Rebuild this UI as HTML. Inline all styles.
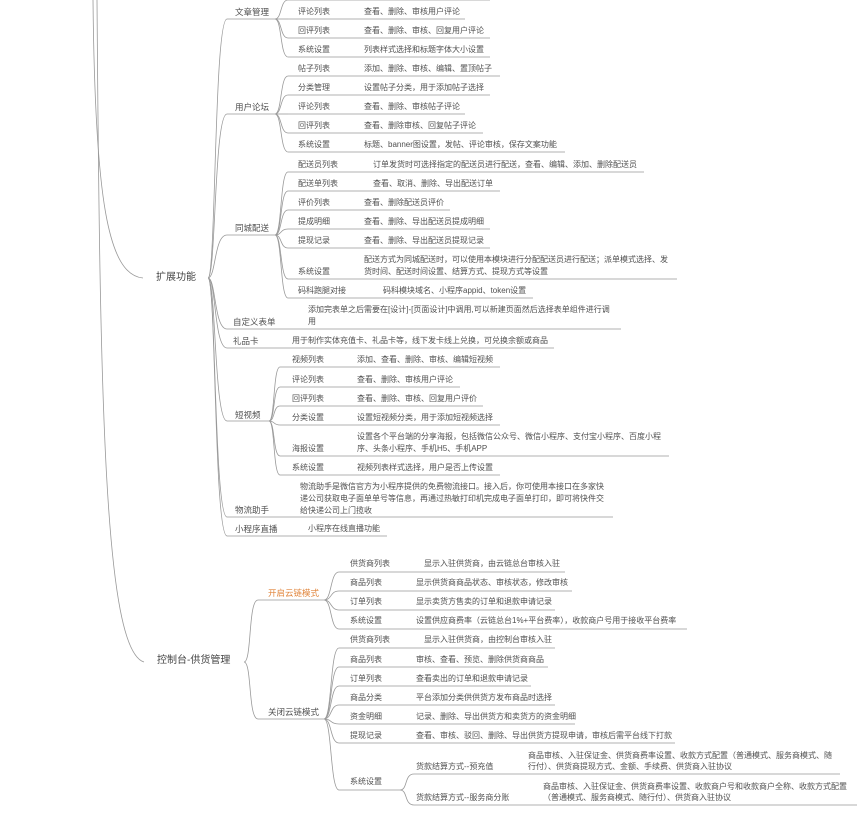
<!DOCTYPE html>
<html><head><meta charset="utf-8"><style>
body{margin:0;background:#fff;width:860px;height:830px;overflow:hidden;position:relative;font-family:"Liberation Sans","Noto Sans CJK SC",sans-serif;color:#505050}
.t{position:absolute;font-size:8px;line-height:12px;white-space:nowrap;transform:translateY(-6px)}
.g{font-size:8.5px}
.m{font-size:10px;color:#444}
svg{position:absolute;left:0;top:0}
</style></head><body>
<svg width="860" height="830" fill="none" stroke="#999" stroke-width="0.8">
<path d="M93,0 C95,200 108,275 143,278"/>
<path d="M97,0 C100,400 104,650 144,662"/>
<g>
<path d="M208,278 C216,278 214,19 227,19"/><path d="M208,278 C216,278 214,114 227,114"/><path d="M208,278 C216,278 214,235 227,235"/><path d="M208,278 C216,278 214,329 227,329"/><path d="M208,278 C216,278 214,348 227,348"/><path d="M208,278 C216,278 214,421 227,421"/><path d="M208,278 C216,278 214,517 227,517"/><path d="M208,278 C216,278 214,536 227,536"/>
<path d="M227,19 H275"/><path d="M227,114 H275"/><path d="M227,235 H275"/><path d="M227,329 H621"/><path d="M227,348 H554"/><path d="M227,421 H269"/><path d="M227,517 H613"/><path d="M227,536 H387"/>
</g>
<g>
<path d="M275,19 C282,19 280,0 288,0"/><path d="M275,19 C282,19 280,19 288,19"/><path d="M275,19 C282,19 280,38 288,38"/><path d="M275,19 C282,19 280,57 288,57"/>
<path d="M288,0 H490"/><path d="M288,19 H465"/><path d="M288,38 H490"/><path d="M288,57 H490"/>
<path d="M275,114 C282,114 280,76 288,76"/><path d="M275,114 C282,114 280,95 288,95"/><path d="M275,114 C282,114 280,114 288,114"/><path d="M275,114 C282,114 280,133 288,133"/><path d="M275,114 C282,114 280,152 288,152"/>
<path d="M288,76 H500"/><path d="M288,95 H490"/><path d="M288,114 H465"/><path d="M288,133 H483"/><path d="M288,152 H565"/>
<path d="M275,235 C282,235 280,172 288,172"/><path d="M275,235 C282,235 280,191 288,191"/><path d="M275,235 C282,235 280,210 288,210"/><path d="M275,235 C282,235 280,229 288,229"/><path d="M275,235 C282,235 280,248 288,248"/><path d="M275,235 C282,235 280,279 288,279"/><path d="M275,235 C282,235 280,298 288,298"/>
<path d="M288,172 H644"/><path d="M288,191 H500"/><path d="M288,210 H450"/><path d="M288,229 H490"/><path d="M288,248 H490"/><path d="M288,279 H677"/><path d="M288,298 H533"/>
<path d="M269,421 C275,421 273,367 280,367"/><path d="M269,421 C275,421 273,387 280,387"/><path d="M269,421 C275,421 273,406 280,406"/><path d="M269,421 C275,421 273,425 280,425"/><path d="M269,421 C275,421 273,456 280,456"/><path d="M269,421 C275,421 273,475 280,475"/>
<path d="M280,367 H500"/><path d="M280,387 H460"/><path d="M280,406 H483"/><path d="M280,425 H500"/><path d="M280,456 H669"/><path d="M280,475 H500"/>
</g>
<g>
<path d="M244,662 C252,662 248,600 258,600"/><path d="M244,662 C252,662 248,719 258,719"/>
<path d="M258,600 H324"/><path d="M258,719 H324"/>
<path d="M324,600 C332,600 330,572 339,572"/><path d="M324,600 C332,600 330,591 339,591"/><path d="M324,600 C332,600 330,610 339,610"/><path d="M324,600 C332,600 330,629 339,629"/>
<path d="M339,572 H565"/><path d="M339,591 H572"/><path d="M339,610 H555"/><path d="M339,629 H687"/>
<path d="M324,719 C332,719 330,648 339,648"/><path d="M324,719 C332,719 330,667 339,667"/><path d="M324,719 C332,719 330,686 339,686"/><path d="M324,719 C332,719 330,705 339,705"/><path d="M324,719 C332,719 330,724 339,724"/><path d="M324,719 C332,719 330,743 339,743"/><path d="M324,719 C332,719 330,790 339,790"/>
<path d="M339,648 H555"/><path d="M339,667 H548"/><path d="M339,686 H531"/><path d="M339,705 H555"/><path d="M339,724 H575"/><path d="M339,743 H675"/><path d="M339,790 H400"/>
<path d="M400,790 C408,790 404,774 414,774"/><path d="M400,790 C408,790 404,805 414,805"/>
<path d="M414,774 H840"/><path d="M414,805 H857"/>
</g>
</svg>

<div class="t m" style="left:156px;top:278px">扩展功能</div>
<div class="t m" style="left:157px;top:661px">控制台-供货管理</div>

<div class="t g" style="left:235px;top:12px">文章管理</div>
<div class="t" style="left:298px;top:12px">评论列表</div><div class="t" style="left:364px;top:12px">查看、删除、审核用户评论</div>
<div class="t" style="left:298px;top:31px">回评列表</div><div class="t" style="left:364px;top:31px">查看、删除、审核、回复用户评论</div>
<div class="t" style="left:298px;top:50px">系统设置</div><div class="t" style="left:364px;top:50px">列表样式选择和标题字体大小设置</div>

<div class="t g" style="left:235px;top:107px">用户论坛</div>
<div class="t" style="left:298px;top:69px">帖子列表</div><div class="t" style="left:364px;top:69px">添加、删除、审核、编辑、置顶帖子</div>
<div class="t" style="left:298px;top:88px">分类管理</div><div class="t" style="left:364px;top:88px">设置帖子分类，用于添加帖子选择</div>
<div class="t" style="left:298px;top:107px">评论列表</div><div class="t" style="left:364px;top:107px">查看、删除、审核帖子评论</div>
<div class="t" style="left:298px;top:126px">回评列表</div><div class="t" style="left:364px;top:126px">查看、删除审核、回复帖子评论</div>
<div class="t" style="left:298px;top:145px">系统设置</div><div class="t" style="left:364px;top:145px">标题、banner图设置，发帖、评论审核，保存文案功能</div>

<div class="t g" style="left:235px;top:228px">同城配送</div>
<div class="t" style="left:298px;top:165px">配送员列表</div><div class="t" style="left:373px;top:165px">订单发货时可选择指定的配送员进行配送，查看、编辑、添加、删除配送员</div>
<div class="t" style="left:298px;top:184px">配送单列表</div><div class="t" style="left:373px;top:184px">查看、取消、删除、导出配送订单</div>
<div class="t" style="left:298px;top:203px">评价列表</div><div class="t" style="left:364px;top:203px">查看、删除配送员评价</div>
<div class="t" style="left:298px;top:222px">提成明细</div><div class="t" style="left:364px;top:222px">查看、删除、导出配送员提成明细</div>
<div class="t" style="left:298px;top:241px">提现记录</div><div class="t" style="left:364px;top:241px">查看、删除、导出配送员提现记录</div>
<div class="t" style="left:298px;top:272px">系统设置</div><div class="t" style="left:364px;top:260px">配送方式为同城配送时，可以使用本模块进行分配配送员进行配送；派单模式选择、发</div><div class="t" style="left:364px;top:272px">货时间、配送时间设置、结算方式、提现方式等设置</div>
<div class="t" style="left:298px;top:291px">码科跑腿对接</div><div class="t" style="left:383px;top:291px">码科模块域名、小程序appid、token设置</div>

<div class="t g" style="left:233px;top:322px">自定义表单</div><div class="t" style="left:308px;top:310px">添加完表单之后需要在[设计]-[页面设计]中调用,可以新建页面然后选择表单组件进行调</div><div class="t" style="left:308px;top:322px">用</div>
<div class="t g" style="left:233px;top:341px">礼品卡</div><div class="t" style="left:292px;top:341px">用于制作实体充值卡、礼品卡等，线下发卡线上兑换，可兑换余额或商品</div>

<div class="t g" style="left:235px;top:415px">短视频</div>
<div class="t" style="left:292px;top:360px">视频列表</div><div class="t" style="left:357px;top:360px">添加、查看、删除、审核、编辑短视频</div>
<div class="t" style="left:292px;top:380px">评论列表</div><div class="t" style="left:357px;top:380px">查看、删除、审核用户评论</div>
<div class="t" style="left:292px;top:399px">回评列表</div><div class="t" style="left:357px;top:399px">查看、删除、审核、回复用户评价</div>
<div class="t" style="left:292px;top:418px">分类设置</div><div class="t" style="left:357px;top:418px">设置短视频分类，用于添加短视频选择</div>
<div class="t" style="left:292px;top:449px">海报设置</div><div class="t" style="left:357px;top:437px">设置各个平台端的分享海报，包括微信公众号、微信小程序、支付宝小程序、百度小程</div><div class="t" style="left:357px;top:449px">序、头条小程序、手机H5、手机APP</div>
<div class="t" style="left:292px;top:468px">系统设置</div><div class="t" style="left:357px;top:468px">视频列表样式选择，用户是否上传设置</div>

<div class="t g" style="left:235px;top:510px">物流助手</div>
<div class="t" style="left:300px;top:487px">物流助手是微信官方为小程序提供的免费物流接口。接入后，你可使用本接口在多家快</div>
<div class="t" style="left:300px;top:499px">递公司获取电子面单单号等信息，再通过热敏打印机完成电子面单打印，即可将快件交</div>
<div class="t" style="left:300px;top:511px">给快递公司上门揽收</div>
<div class="t g" style="left:235px;top:529px">小程序直播</div><div class="t" style="left:308px;top:529px">小程序在线直播功能</div>

<div class="t g" style="left:268px;top:593px;color:#e0843a">开启云链模式</div>
<div class="t" style="left:350px;top:564px">供货商列表</div><div class="t" style="left:424px;top:564px">显示入驻供货商，由云链总台审核入驻</div>
<div class="t" style="left:350px;top:583px">商品列表</div><div class="t" style="left:416px;top:583px">显示供货商商品状态、审核状态，修改审核</div>
<div class="t" style="left:350px;top:602px">订单列表</div><div class="t" style="left:416px;top:602px">显示卖货方售卖的订单和退款申请记录</div>
<div class="t" style="left:350px;top:621px">系统设置</div><div class="t" style="left:416px;top:621px">设置供应商费率（云链总台1%+平台费率），收款商户号用于接收平台费率</div>

<div class="t g" style="left:268px;top:712px">关闭云链模式</div>
<div class="t" style="left:350px;top:640px">供货商列表</div><div class="t" style="left:424px;top:640px">显示入驻供货商，由控制台审核入驻</div>
<div class="t" style="left:350px;top:660px">商品列表</div><div class="t" style="left:416px;top:660px">审核、查看、预览、删除供货商商品</div>
<div class="t" style="left:350px;top:679px">订单列表</div><div class="t" style="left:416px;top:679px">查看卖出的订单和退款申请记录</div>
<div class="t" style="left:350px;top:698px">商品分类</div><div class="t" style="left:416px;top:698px">平台添加分类供供货方发布商品时选择</div>
<div class="t" style="left:350px;top:717px">资金明细</div><div class="t" style="left:416px;top:717px">记录、删除、导出供货方和卖货方的资金明细</div>
<div class="t" style="left:350px;top:736px">提现记录</div><div class="t" style="left:416px;top:736px">查看、审核、驳回、删除、导出供货方提现申请，审核后需平台线下打款</div>
<div class="t" style="left:350px;top:782px">系统设置</div>
<div class="t" style="left:416px;top:767px">货款结算方式--预充值</div>
<div class="t" style="left:528px;top:756px">商品审核、入驻保证金、供货商费率设置、收款方式配置（普通模式、服务商模式、随</div><div class="t" style="left:528px;top:767px">行付）、供货商提现方式、金额、手续费、供货商入驻协议</div>
<div class="t" style="left:416px;top:798px">货款结算方式--服务商分账</div>
<div class="t" style="left:543px;top:787px">商品审核、入驻保证金、供货商费率设置、收款商户号和收款商户全称、收款方式配置</div><div class="t" style="left:543px;top:798px">（普通模式、服务商模式、随行付）、供货商入驻协议</div>
</body></html>
